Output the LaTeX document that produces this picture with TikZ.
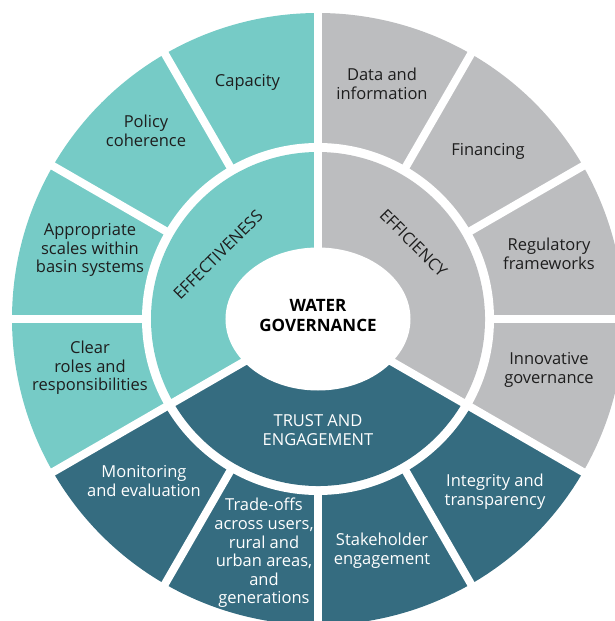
\documentclass[tikz,border=0pt]{standalone}
\usepackage{fontspec}
\setmainfont{Open Sans}
\definecolor{effteal}{HTML}{76CBC6}
\definecolor{effgray}{HTML}{BCBDBF}
\definecolor{trustblue}{HTML}{356C80}
\definecolor{labeltext}{HTML}{1E1E1E}

\begin{document}
\begin{tikzpicture}[x=1pt,y=1pt,
  lbl/.style={align=center,inner sep=0pt,font=\fontsize{16.5}{18.6}\selectfont,text=labeltext},
  lbldark/.style={lbl,text=white},
  gap/.style={white,line width=8pt}]
\useasboundingbox (-318,-302) rectangle (296,319);
% outer ring
\fill[effteal] (0,0) -- (90:306) arc (90:210:306) -- cycle;
\fill[trustblue] (0,0) -- (210:306) arc (210:330:306) -- cycle;
\fill[effgray] (0,0) -- (-30:306) arc (-30:90:306) -- cycle;
\fill[white] (0,0) circle (176);
% inner ring
\fill[effteal] (0,0) -- (90:167) arc (90:210:167) -- cycle;
\fill[trustblue] (0,0) -- (210:167) arc (210:330:167) -- cycle;
\fill[effgray] (0,0) -- (-30:167) arc (-30:90:167) -- cycle;
\fill[white] (0,0) ellipse (92.5 and 71.5);
% white gaps
\foreach \a in {0,30,60,120,150,180,240,270,300}
  \draw[gap] (\a:170) -- (\a:312);
\foreach \a in {90,210,330}
  \draw[gap] (0,0) -- (\a:312);

% centre and inner ring
\node[font=\bfseries\fontsize{17}{20}\selectfont,align=center] (water) at (0,4) {WATER\\GOVERNANCE};
\node[lbl,rotate=45] (effectiveness) at (-100,64) {EFFECTIVENESS};
\node[lbl,rotate=-45] (efficiency) at (95.5,76) {EFFICIENCY};
\node[lbldark] (trust) at (0,-111) {TRUST AND\\ENGAGEMENT};

% outer ring labels
\node[lbl] (capacity) at (-70.5,237) {Capacity};
\node[lbl] (policy) at (-172,188) {Policy\\coherence};
\node[lbl] (scales) at (-228,69) {Appropriate\\scales within\\basin systems};
\node[lbl] (roles) at (-228,-49) {Clear\\roles and\\responsibilities};
\node[lbldark] (monitoring) at (-174,-162) {Monitoring\\and evaluation};
\node[lbldark] (tradeoffs) at (-54,-234) {Trade-offs\\across users,\\rural and\\urban areas,\\and\\generations};
\node[lbldark] (stakeholder) at (64,-232) {Stakeholder\\engagement};
\node[lbldark] (integrity) at (177,-173) {Integrity and\\transparency};
\node[lbl] (innovative) at (231,-51) {Innovative\\governance};
\node[lbl] (regulatory) at (231,65) {Regulatory\\frameworks};
\node[lbl] (financing) at (170,168) {Financing};
\node[lbl] (data) at (64,235) {Data and\\information};
\end{tikzpicture}
\end{document}
